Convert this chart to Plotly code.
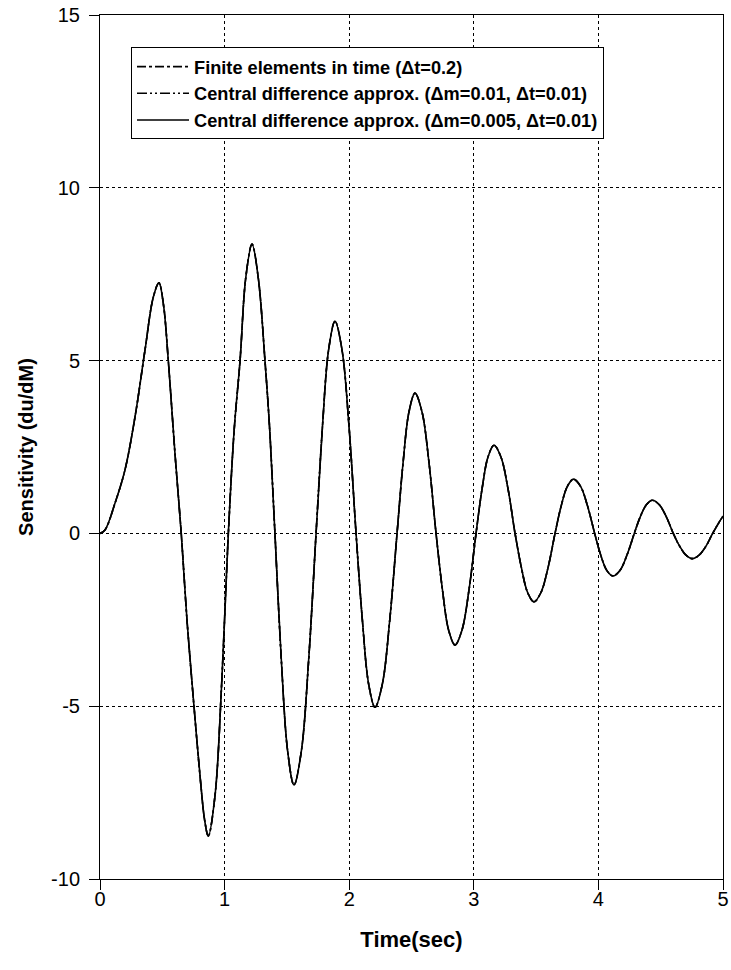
import plotly.graph_objects as go

# Time samples (sec)
time_s = [0.0, 0.04, 0.12, 0.20, 0.281, 0.361, 0.428, 0.473, 0.51, 0.548, 0.602, 0.652,
          0.70, 0.754, 0.81, 0.84, 0.869, 0.923, 0.976, 1.03,
          1.077, 1.124, 1.17, 1.22, 1.27, 1.324, 1.362, 1.404,
          1.455, 1.506, 1.557, 1.616, 1.675, 1.734,
          1.785, 1.835, 1.886, 1.942, 1.999, 2.055,
          2.106, 2.156, 2.207, 2.266, 2.325, 2.384,
          2.432, 2.48, 2.528, 2.584, 2.641, 2.697,
          2.748, 2.798, 2.849, 2.905, 2.962, 3.018,
          3.066, 3.114, 3.162, 3.218, 3.275, 3.331,
          3.382, 3.432, 3.483, 3.539, 3.596, 3.652,
          3.701, 3.751, 3.80, 3.857, 3.913, 3.97,
          4.018, 4.067, 4.115, 4.173, 4.23, 4.288,
          4.336, 4.385, 4.433, 4.489, 4.545, 4.601,
          4.652, 4.703, 4.754, 4.808, 4.863, 4.917,
          4.96, 5.0]

# Sensitivity du/dM values (the three curves coincide)
fe_dt02 = [0.0, 0.1, 0.87, 1.83, 3.37, 5.30, 6.84, 7.25, 6.6, 5.01, 2.3, 0.0,
           -2.6, -4.99, -7.3, -8.3, -8.76, -7.59, -4.38, 0.0,
           3.0, 5.0, 7.4, 8.37, 7.4, 5.0, 3.0, 0.0,
           -3.64, -6.30, -7.28, -6.30, -3.64, 0.0,
           3.07, 5.32, 6.14, 5.32, 3.07, 0.0,
           -2.52, -4.36, -5.03, -4.36, -2.52, 0.0,
           2.03, 3.52, 4.06, 3.52, 2.03, 0.0,
           -1.62, -2.80, -3.23, -2.80, -1.62, 0.0,
           1.28, 2.21, 2.55, 2.21, 1.28, 0.0,
           -0.99, -1.71, -1.98, -1.71, -0.99, 0.0,
           0.79, 1.36, 1.57, 1.36, 0.79, 0.0,
           -0.62, -1.07, -1.23, -1.07, -0.62, 0.0,
           0.48, 0.83, 0.96, 0.83, 0.48, 0.0,
           -0.37, -0.63, -0.73, -0.63, -0.37, 0.0,
           0.27, 0.5]
cd_dm001 = list(fe_dt02)
cd_dm0005 = list(fe_dt02)

series_names = [
    "Finite elements in time (\u0394t=0.2)",
    "Central difference approx. (\u0394m=0.01, \u0394t=0.01)",
    "Central difference approx. (\u0394m=0.005, \u0394t=0.01)",
]
series_values = [fe_dt02, cd_dm001, cd_dm0005]
series_dash = ["dashdot", "10px,3px,2px,3px,2px,3px", "solid"]

x_ticks = [0, 1, 2, 3, 4, 5]
y_ticks = [-10, -5, 0, 5, 10, 15]

fig = go.Figure()
for name, vals, dash in zip(series_names, series_values, series_dash):
    fig.add_trace(go.Scatter(
        x=time_s, y=vals, mode="lines", name=name,
        line=dict(color="black", width=1.6, dash=dash, shape="spline", smoothing=1.0),
    ))

font_family = "Liberation Sans, Arial, sans-serif"

fig.update_layout(
    width=731, height=970,
    margin=dict(l=100, r=8, t=15, b=91, autoexpand=False),
    paper_bgcolor="white", plot_bgcolor="white",
    font=dict(family=font_family, color="black", size=20),
    showlegend=True,
    legend=dict(
        x=0.0498, y=0.9626, xanchor="left", yanchor="top",
        bgcolor="white", bordercolor="black", borderwidth=1,
        font=dict(family=font_family, size=18.2, color="black", weight="bold"),
        itemwidth=52, tracegroupgap=0,
    ),
)

fig.update_xaxes(
    range=[0, 5], tickvals=x_ticks, ticktext=[str(v) for v in x_ticks],
    showline=True, linecolor="black", linewidth=1, mirror=True,
    ticks="outside", ticklen=10, tickcolor="black", tickwidth=1,
    showgrid=True, gridcolor="black", gridwidth=1, griddash="dot",
    zeroline=False, ticklabelstandoff=-8, automargin=False,
    ticklabeloverflow="allow",
    tickfont=dict(size=20, family=font_family),
    title=dict(text="<b>Time(sec)</b>", font=dict(size=22, family=font_family), standoff=22),
)
fig.update_yaxes(
    range=[-10, 15], tickvals=y_ticks, ticktext=[str(v) for v in y_ticks],
    showline=True, linecolor="black", linewidth=1, mirror=True,
    ticks="outside", ticklen=10, tickcolor="black", tickwidth=1,
    showgrid=True, gridcolor="black", gridwidth=1, griddash="dot",
    zeroline=False, ticklabelstandoff=5, automargin=False,
    ticklabeloverflow="allow",
    tickfont=dict(size=20, family=font_family),
    title=dict(text="<b>Sensitivity (du/dM)</b>", font=dict(size=20, family=font_family), standoff=12),
)

# remove the browser's default 8px body margin so the figure fills the window exactly
fig.write_html(
    "out.html",
    config={"displayModeBar": False},
    post_script="document.body.style.margin='0px';document.body.style.padding='0px';",
)
